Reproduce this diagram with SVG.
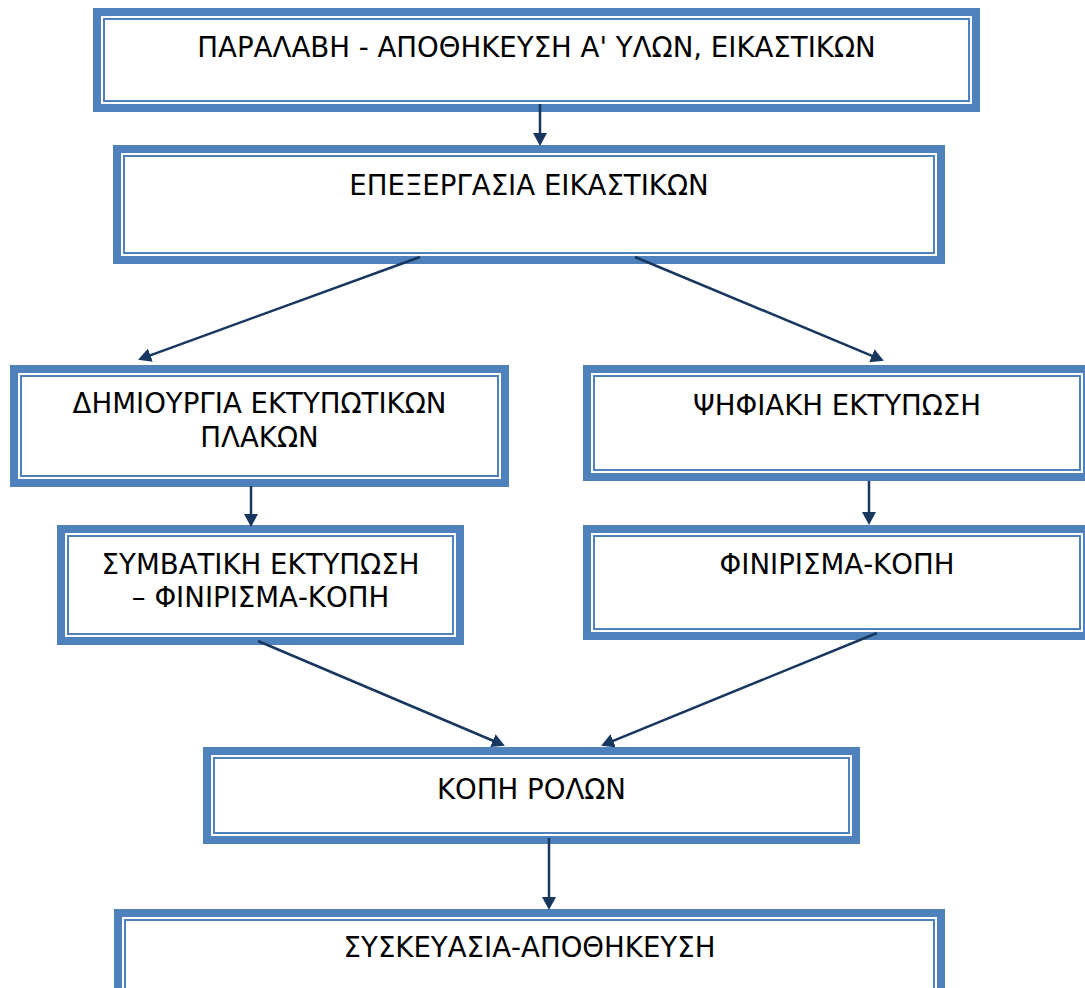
<svg xmlns="http://www.w3.org/2000/svg" width="1085" height="988" viewBox="0 0 1085 988">
  <style>
    .band { fill: #ffffff; stroke: #4F81BD; stroke-width: 8; }
    .rule { fill: none; stroke: #4F81BD; stroke-width: 2; }
    .label { font-family: "DejaVu Sans", Verdana, sans-serif; font-size: 27.6px; fill: #000000; text-anchor: middle; }
    .flow { fill: none; stroke: #17375E; stroke-width: 2.5; marker-end: url(#head); }
  </style>
  <defs>
    <marker id="head" markerUnits="userSpaceOnUse" markerWidth="13" markerHeight="14" refX="6" refY="7" orient="auto">
      <path d="M0,0 L13,7 L0,14 z" fill="#17375E"/>
    </marker>
  </defs>
  <rect width="1085" height="988" fill="#ffffff"/>

  <!-- process steps: thick outer band + thin inner rule -->
  <g id="step-receive">
    <rect class="band" x="97" y="12" width="879" height="96"/>
    <rect class="rule" x="104" y="19" width="865" height="82"/>
    <text class="label" x="536.5" y="57">ΠΑΡΑΛΑΒΗ - ΑΠΟΘΗΚΕΥΣΗ Α' ΥΛΩΝ, ΕΙΚΑΣΤΙΚΩΝ</text>
  </g>

  <g id="step-artwork">
    <rect class="band" x="117" y="149" width="824" height="111"/>
    <rect class="rule" x="124" y="156" width="810" height="97"/>
    <text class="label" x="529" y="195">ΕΠΕΞΕΡΓΑΣΙΑ ΕΙΚΑΣΤΙΚΩΝ</text>
  </g>

  <g id="step-plates">
    <rect class="band" x="14" y="369" width="491" height="114"/>
    <rect class="rule" x="21" y="376" width="477" height="100"/>
    <text class="label" x="259.5" y="413">ΔΗΜΙΟΥΡΓΙΑ ΕΚΤΥΠΩΤΙΚΩΝ</text>
    <text class="label" x="259.5" y="447">ΠΛΑΚΩΝ</text>
  </g>

  <g id="step-digital">
    <rect class="band" x="587" y="369" width="500" height="108"/>
    <rect class="rule" x="594" y="376" width="486" height="94"/>
    <text class="label" x="837" y="415">ΨΗΦΙΑΚΗ ΕΚΤΥΠΩΣΗ</text>
  </g>

  <g id="step-conventional">
    <rect class="band" x="61" y="529" width="399" height="112"/>
    <rect class="rule" x="68" y="536" width="385" height="98"/>
    <text class="label" x="260.5" y="574">ΣΥΜΒΑΤΙΚΗ ΕΚΤΥΠΩΣΗ</text>
    <text class="label" x="260.5" y="607">– ΦΙΝΙΡΙΣΜΑ-ΚΟΠΗ</text>
  </g>

  <g id="step-finishing">
    <rect class="band" x="587" y="529" width="500" height="107"/>
    <rect class="rule" x="594" y="536" width="486" height="93"/>
    <text class="label" x="837" y="574">ΦΙΝΙΡΙΣΜΑ-ΚΟΠΗ</text>
  </g>

  <g id="step-rolls">
    <rect class="band" x="207" y="751" width="649" height="89"/>
    <rect class="rule" x="214" y="758" width="635" height="75"/>
    <text class="label" x="531.5" y="799">ΚΟΠΗ ΡΟΛΩΝ</text>
  </g>

  <g id="step-packing">
    <rect class="band" x="118" y="913" width="823" height="100"/>
    <rect class="rule" x="125" y="920" width="809" height="86"/>
    <text class="label" x="529.5" y="957">ΣΥΣΚΕΥΑΣΙΑ-ΑΠΟΘΗΚΕΥΣΗ</text>
  </g>

  <!-- flow connectors -->
  <g id="connectors">
    <line class="flow" x1="540" y1="104" x2="540" y2="139"/>
    <line class="flow" x1="420" y1="257" x2="144.7" y2="357.3"/>
    <line class="flow" x1="635" y1="257" x2="877.4" y2="358.1"/>
    <line class="flow" x1="251" y1="486" x2="251" y2="520"/>
    <line class="flow" x1="869" y1="481" x2="869" y2="518"/>
    <line class="flow" x1="258" y1="641" x2="498.4" y2="743"/>
    <line class="flow" x1="877" y1="633" x2="607.6" y2="743.1"/>
    <line class="flow" x1="549" y1="838" x2="549" y2="903"/>
  </g>
</svg>
